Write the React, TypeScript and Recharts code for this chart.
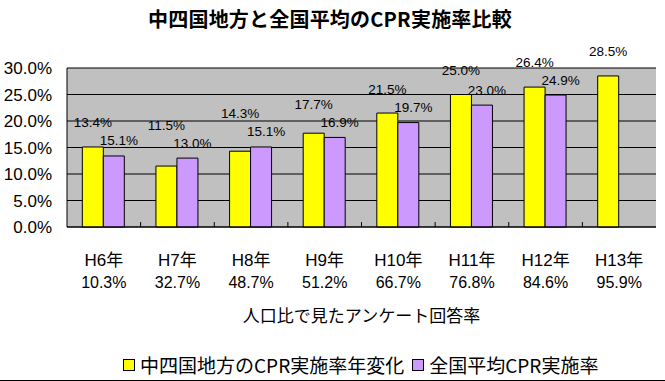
import React from "react";
import {
  Bar,
  BarChart,
  CartesianGrid,
  LabelList,
  Legend,
  XAxis,
  YAxis
} from "recharts";

const years = ["H6年", "H7年", "H8年", "H9年", "H10年", "H11年", "H12年", "H13年"];
const responseRates = ["10.3%", "32.7%", "48.7%", "51.2%", "66.7%", "76.8%", "84.6%", "95.9%"];
const chushikokuRates = [15.1, 11.5, 14.3, 17.7, 21.5, 25.0, 26.4, 28.5];
const nationalRates = [13.4, 13.0, 15.1, 16.9, 19.7, 23.0, 24.9, null];
const chushikokuLabels = ["13.4%", "11.5%", "14.3%", "17.7%", "21.5%", "25.0%", "26.4%", "28.5%"];
const nationalLabels = ["15.1%", "13.0%", "15.1%", "16.9%", "19.7%", "23.0%", "24.9%", ""];
const yTicks = [0, 5, 10, 15, 20, 25, 30];

const seriesNames = ["中四国地方のCPR実施率年変化", "全国平均CPR実施率"];
const YELLOW = "#FFFF00";
const LAVENDER = "#CC99FF";
const FONT = "'Liberation Sans', 'Noto Sans CJK JP', sans-serif";
const CJK_FONT = "'Noto Sans CJK JP', sans-serif";

const data = years.map((year, i) => ({
  year,
  chushikoku: chushikokuRates[i],
  national: nationalRates[i]
}));

function YearTick(props: any) {
  const { x, y, payload, width } = props;
  const i = years.indexOf(payload.value);
  const halfBand = width / years.length / 2;
  return (
    <g>
      {i < years.length - 1 && (
        <line x1={x + halfBand} x2={x + halfBand} y1={y} y2={y - 5} stroke="#000" />
      )}
      <text x={x} y={y + 39} textAnchor="middle" fontSize={17} fill="#000" fontFamily={FONT}>
        {years[i]}
      </text>
      <text x={x} y={y + 61} textAnchor="middle" fontSize={16} fill="#000" fontFamily={FONT}>
        {responseRates[i]}
      </text>
    </g>
  );
}

// yellow labels: above own bar, but kept clear of the lavender label beside it
function YellowLabel(props: any) {
  const { x, y, width, height, index, value } = props;
  if (value == null) return null;
  const pxPerUnit = height / value;
  const other = nationalRates[index];
  let ty = y - 24;
  if (other != null) {
    const otherTop = y + height - other * pxPerUnit;
    ty = Math.min(ty, otherTop - 15 - 18);
  }
  return (
    <text x={x + width / 2} y={ty} textAnchor="middle" dominantBaseline="central"
      fontSize={13.5} fill="#000" fontFamily={FONT}>
      {chushikokuLabels[index]}
    </text>
  );
}

function LavenderLabel(props: any) {
  const { x, y, width, index, value } = props;
  if (value == null) return null;
  return (
    <text x={x + width / 2 + 5} y={y - 15} textAnchor="middle" dominantBaseline="central"
      fontSize={13.5} fill="#000" fontFamily={FONT}>
      {nationalLabels[index]}
    </text>
  );
}

function LegendBox() {
  const colors = [YELLOW, LAVENDER];
  return (
    <div style={{ display: "flex", alignItems: "center", fontSize: 19, lineHeight: "24px", fontFamily: CJK_FONT, color: "#000" }}>
      {seriesNames.map((name, i) => (
        <span key={name} style={{ display: "flex", alignItems: "center", marginRight: 8 }}>
          <span
            style={{
              width: 10,
              height: 10,
              background: colors[i],
              border: "1px solid #000",
              marginRight: 5
            }}
          />
          {name}
        </span>
      ))}
    </div>
  );
}

export default function App() {
  return (
    <div
      style={{
        position: "absolute",
        left: 0,
        top: 0,
        width: 665,
        height: 381,
        background: "#fff",
        borderBottom: "1px solid #000",
        boxSizing: "border-box",
        fontFamily: FONT
      }}
    >
      <div
        style={{
          position: "absolute",
          top: 7,
          left: 0,
          width: 660,
          textAlign: "center",
          fontSize: 20,
          fontWeight: "bold",
          letterSpacing: 0.2,
          fontFamily: CJK_FONT,
          lineHeight: "24px"
        }}
      >
        中四国地方と全国平均のCPR実施率比較
      </div>
      <BarChart
        width={665}
        height={380}
        data={data}
        margin={{ top: 68, right: 9, left: 0, bottom: 3 }}
        barCategoryGap="20.8%"
        barGap={0}
      >
        <CartesianGrid vertical={false} stroke="#000" fill="#C0C0C0" />
        <XAxis
          dataKey="year"
          height={126}
          tickLine={false}
          tickSize={0}
          tickMargin={0}
          axisLine={{ stroke: "#000" }}
          tick={<YearTick />}
          interval={0}
          label={{
            value: "人口比で見たアンケート回答率",
            position: "insideBottom",
            offset: 31,
            fontSize: 17,
            fill: "#000",
            fontFamily: CJK_FONT
          }}
        />
        <YAxis
          width={67}
          domain={[0, 30]}
          ticks={yTicks}
          tickFormatter={(v: number) => v.toFixed(1) + "%"}
          tickLine={false}
          tickSize={0}
          tickMargin={15}
          axisLine={{ stroke: "#000" }}
          tick={{ fontSize: 17, fill: "#000", fontFamily: FONT }}
        />
        <YAxis
          yAxisId="edge"
          orientation="right"
          width={0}
          domain={[0, 30]}
          tick={false}
          tickLine={false}
          axisLine={{ stroke: "#808080" }}
        />
        <Legend
          verticalAlign="bottom"
          height={24}
          wrapperStyle={{ left: 123, width: "auto" }}
          content={() => <LegendBox />}
        />
        <Bar
          dataKey="chushikoku"
          name={seriesNames[0]}
          fill={YELLOW}
          stroke="#000"
          strokeWidth={1}
          isAnimationActive={false}
        >
          <LabelList dataKey="chushikoku" content={<YellowLabel />} />
        </Bar>
        <Bar
          dataKey="national"
          name={seriesNames[1]}
          fill={LAVENDER}
          stroke="#000"
          strokeWidth={1}
          isAnimationActive={false}
        >
          <LabelList dataKey="national" content={<LavenderLabel />} />
        </Bar>
      </BarChart>
    </div>
  );
}
